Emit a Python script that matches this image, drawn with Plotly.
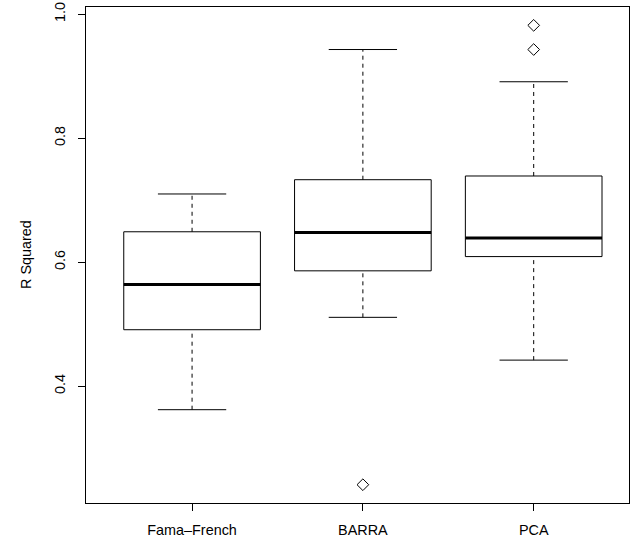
import plotly.graph_objects as go

groups = ["Fama–French", "BARRA", "PCA"]
lower_whisker = [0.362, 0.511, 0.442]
q1 = [0.491, 0.586, 0.609]
median = [0.564, 0.648, 0.639]
q3 = [0.649, 0.733, 0.739]
upper_whisker = [0.710, 0.943, 0.891]
outlier_group = [2, 3, 3]
outlier_value = [0.241, 0.943, 0.982]
y_ticks = [0.4, 0.6, 0.8, 1.0]

pos = [1, 2, 3]
BOX_HALF = 0.4
CAP_HALF = 0.2
FONT = "Liberation Sans, Arial, sans-serif"
FS = 14.4

def seg(pairs):
    xs, ys = [], []
    for (x0, y0, x1, y1) in pairs:
        xs += [x0, x1, None]
        ys += [y0, y1, None]
    return xs, ys

fig = go.Figure()

# boxes
bx, by = [], []
for p, a, b in zip(pos, q1, q3):
    bx += [p - BOX_HALF, p + BOX_HALF, p + BOX_HALF, p - BOX_HALF, p - BOX_HALF, None]
    by += [a, a, b, b, a, None]
fig.add_trace(go.Scatter(x=bx, y=by, mode="lines", line=dict(color="black", width=1),
                         hoverinfo="skip", showlegend=False))

# whiskers (dashed)
wx, wy = seg([(p, lo, p, a) for p, lo, a in zip(pos, lower_whisker, q1)] +
             [(p, b, p, hi) for p, b, hi in zip(pos, q3, upper_whisker)])
fig.add_trace(go.Scatter(x=wx, y=wy, mode="lines", line=dict(color="black", width=1, dash="4px,4px"),
                         hoverinfo="skip", showlegend=False))

# staples
sx, sy = seg([(p - CAP_HALF, lo, p + CAP_HALF, lo) for p, lo in zip(pos, lower_whisker)] +
             [(p - CAP_HALF, hi, p + CAP_HALF, hi) for p, hi in zip(pos, upper_whisker)])
fig.add_trace(go.Scatter(x=sx, y=sy, mode="lines", line=dict(color="black", width=1),
                         hoverinfo="skip", showlegend=False))

# medians
mx, my = seg([(p - BOX_HALF, m, p + BOX_HALF, m) for p, m in zip(pos, median)])
fig.add_trace(go.Scatter(x=mx, y=my, mode="lines", line=dict(color="black", width=3),
                         hoverinfo="skip", showlegend=False))

# outliers
fig.add_trace(go.Scatter(x=outlier_group, y=outlier_value, mode="markers",
                         marker=dict(symbol="diamond-open", size=9, color="black",
                                     line=dict(width=1, color="black")),
                         showlegend=False))

fig.update_layout(
    width=630, height=544,
    margin=dict(l=86, r=1, t=7, b=41),
    plot_bgcolor="white", paper_bgcolor="white",
    font=dict(family=FONT, size=FS, color="black"),
    xaxis=dict(range=[0.379, 3.558], tickvals=pos, ticktext=groups,
               ticks="outside", ticklen=7, tickcolor="black", tickwidth=1,
               showline=True, mirror=True, linecolor="black", linewidth=1,
               showgrid=False, zeroline=False, ticklabelstandoff=7),
    yaxis=dict(range=[0.2115, 1.0116], tickvals=y_ticks, ticktext=[f"{v:.1f}" for v in y_ticks],
               tickangle=-90, ticks="outside", ticklen=7, tickcolor="black", tickwidth=1,
               showline=True, mirror=True, linecolor="black", linewidth=1,
               showgrid=False, zeroline=False, ticklabelstandoff=7),
    annotations=[dict(text="R Squared", xref="paper", yref="paper", x=-60 / 543, y=0.5,
                      xanchor="center", yanchor="middle", textangle=-90, showarrow=False,
                      font=dict(family=FONT, size=FS, color="black"))],
)

fig.write_html("out.html")
